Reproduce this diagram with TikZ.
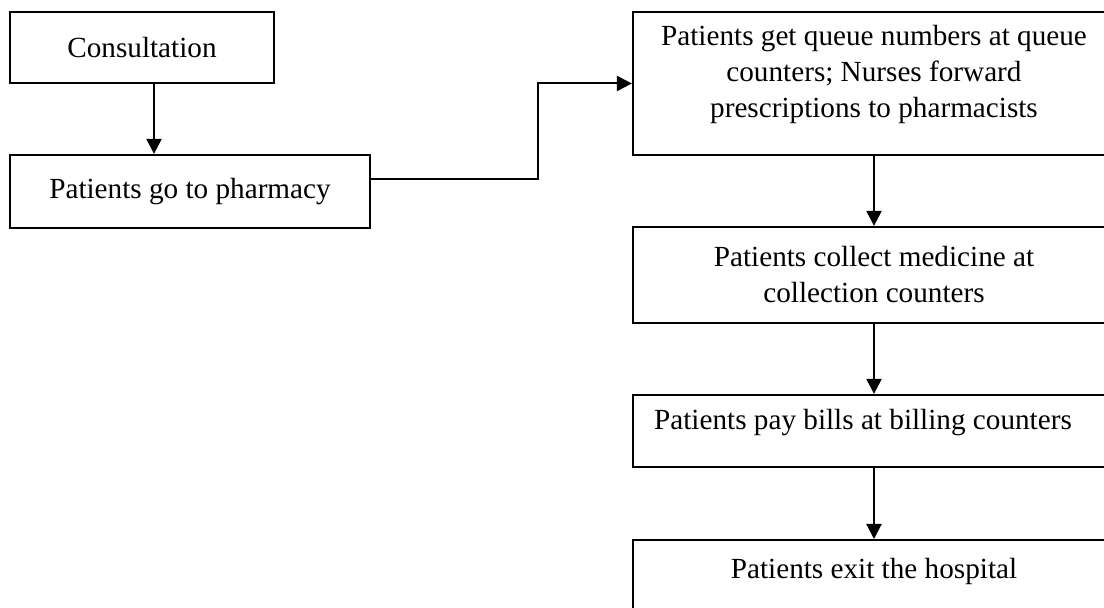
\documentclass[tikz,border=0pt]{standalone}
\usepackage{fontspec}
\setmainfont{Liberation Serif}
\usetikzlibrary{arrows.meta}
\begin{document}
\begin{tikzpicture}[x=0.5pt,y=-0.5pt,
  box/.style={draw,line width=1.1pt,inner sep=0pt,align=center,
    font=\fontsize{14.6}{18}\selectfont},
  arr/.style={line width=1pt,-{Triangle[length=7.5pt,width=7.5pt]}}]
\useasboundingbox (0,0) rectangle (1104,608);
\pgfmathsetmacro{\qx}{874}
\pgfmathsetmacro{\qw}{241}
\node[box,minimum width=132pt,minimum height=35.5pt](cons) at (142,47.5){Consultation};
\node[box,minimum width=180pt,minimum height=36.5pt](pharm) at (190,191.5){Patients go to pharmacy};
\node[box,minimum width=\qw pt,minimum height=71.5pt](queue) at (\qx,83.5)
  {Patients get queue numbers at queue\\counters; Nurses forward\\prescriptions to pharmacists\\[-11pt]\strut};
\node[box,minimum width=\qw pt,minimum height=48pt](collect) at (\qx,275)
  {Patients collect medicine at\\collection counters};
\node[box,minimum width=\qw pt,minimum height=36pt](bill) at (\qx,431)
  {Patients pay bills at billing counters\hspace*{11pt}\\[-12pt]\strut};
\node[box,minimum width=\qw pt,anchor=north,text height=19pt,text depth=40pt](leave) at (\qx,539)
  {Patients exit the hospital};
\coordinate (elbow) at (538,83.5);
\draw[arr]([xshift=6pt]cons.south)--([xshift=6pt]cons.south |- pharm.north);
\draw[arr]([yshift=6pt]pharm.east)-|(elbow)--(queue.west);
\draw[arr](queue.south)--(collect.north);
\draw[arr](collect.south)--(bill.north);
\draw[arr](bill.south)--(leave.north);
\end{tikzpicture}
\end{document}
